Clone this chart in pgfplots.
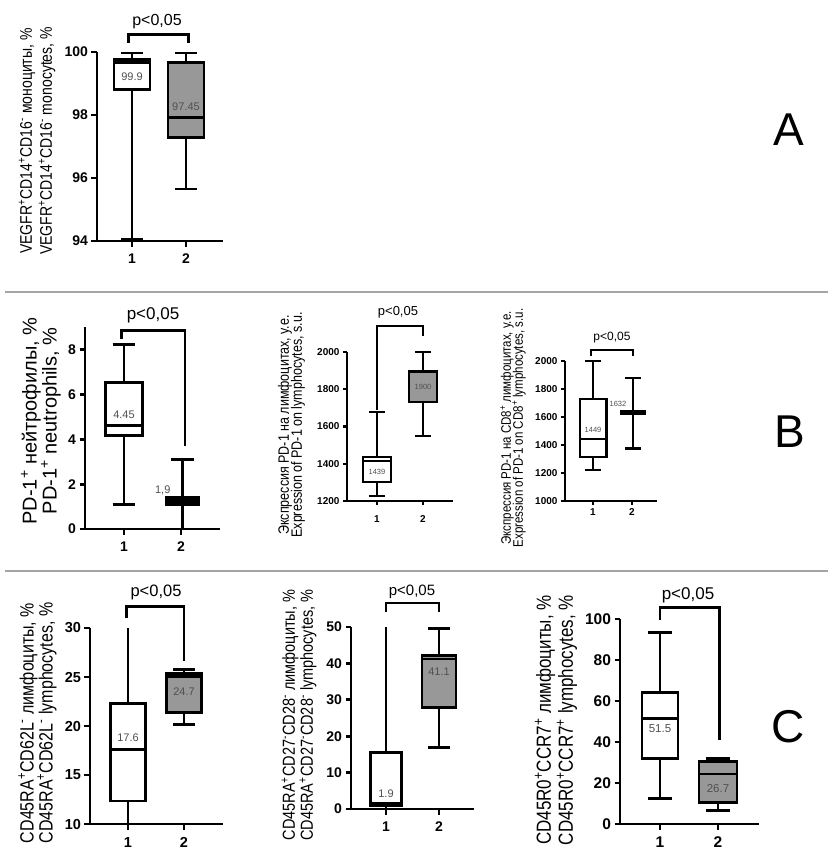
\documentclass[border=0pt]{standalone}
\usepackage{fontspec}
\setmainfont{Liberation Sans}
\usepackage{graphicx}
\usepackage{pgfplots}
\pgfplotsset{compat=1.18}
\usepgfplotslibrary{statistics}
\definecolor{boxgray}{RGB}{152,152,152}
\definecolor{lblgray}{RGB}{80,80,80}
\definecolor{sepgray}{RGB}{165,165,165}
\newcommand{\fs}[1]{\fontsize{#1}{#1}\selectfont}
\newcommand{\sps}{\textsuperscript{+}}
\newcommand{\smn}{\textsuperscript{-}}
\newcommand{\vs}[1]{\scalebox{1}[1.2]{#1}}
\newcommand{\LW}{2.9pt}
\newcommand{\SW}{2.1pt}
\pgfplotsset{
  gp/.style={
    scale only axis, clip=false,
    axis x line=bottom, axis y line=left,
    axis line style={-, line width=#1},
    tick style={black, line width=#1},
    tick align=outside, major tick length=5.5pt,
    xtick={1,2}, minor tick num=0,
    /pgf/number format/assume math mode=true,
    /pgf/number format/1000 sep={},
    boxplot/draw direction=y,
    boxplot/every box/.append style={line width=#1},
    boxplot/every whisker/.append style={line width=#1},
    boxplot/every median/.append style={line width=#1},
    every axis plot/.append style={line width=#1},
  },
}
\begin{document}
\begin{tikzpicture}
\path[use as bounding box] (0pt,0pt) rectangle (833pt,-867pt);
\fill[white] (0pt,0pt) rectangle (833pt,-867pt);
\draw[sepgray, line width=1.3pt] (5pt,-292pt) -- (828pt,-292pt);
\draw[sepgray, line width=2pt] (5pt,-571pt) -- (828pt,-571pt);

% ---------------- Panel A
\begin{axis}[gp=\LW, at={(97pt,-241pt)}, anchor=south west, width=126pt, height=189pt,
 xmin=0.352, xmax=2.685, ymin=94, ymax=100, ytick={94,96,98,100},
 xticklabel style={yshift=-4pt},
 ticklabel style={font=\bfseries\fs{14}}]
\addplot[draw=black, line width=\LW, mark=none, fill=white, boxplot prepared={lower whisker=94.04, lower quartile=98.80, median=99.68, upper quartile=99.76, upper whisker=99.97, draw position=1, box extend=0.667, whisker extend=0.4}] coordinates {};
\addplot[draw=black, line width=\LW, mark=none, fill=boxgray, boxplot prepared={lower whisker=95.65, lower quartile=97.29, median=97.93, upper quartile=99.68, upper whisker=99.97, draw position=2, box extend=0.667, whisker extend=0.4}] coordinates {};
\addplot[black, line width=\LW, no marks] coordinates {(0.93,100.29) (0.93,100.57) (2.05,100.57) (2.05,100.29)};
\node[font=\fs{11}, text=lblgray] at (axis cs:1,99.22) {99.9};
\node[font=\fs{11}, text=lblgray] at (axis cs:2,98.25) {97.45};
\end{axis}
\node[font=\fs{16}] at (157pt,-22pt) {p<0,05};
\node[rotate=90, font=\fs{14}] at (27pt,-141pt) {\vs{VEGFR\sps CD14\sps CD16\smn{} моноциты, \%}};
\node[rotate=90, font=\fs{14}] at (47pt,-141pt) {\vs{VEGFR\sps CD14\sps CD16\smn{} monocytes, \%}};
\node[font=\fs{46}] at (789pt,-130pt) {A};

% ---------------- Panel B1
\begin{axis}[gp=\LW, at={(85pt,-529pt)}, anchor=south west, width=135pt, height=202pt,
 xmin=0.316, xmax=2.684, ymin=0, ymax=9, ytick={0,2,4,6,8},
 xticklabel style={yshift=-4pt},
 ticklabel style={font=\bfseries\fs{14}}]
\addplot[draw=black, line width=\LW, mark=none, fill=white, boxplot prepared={lower whisker=1.10, lower quartile=4.16, median=4.60, upper quartile=6.51, upper whisker=8.22, draw position=1, box extend=0.65, whisker extend=0.4}] coordinates {};
\addplot[draw=black, line width=\LW, mark=none, fill=black, boxplot prepared={lower whisker=0, lower quartile=1.07, median=1.25, upper quartile=1.42, upper whisker=3.11, draw position=2.03, box extend=0.56, whisker extend=0.4}] coordinates {};
\addplot[black, line width=\LW, no marks] coordinates {(0.95,8.45) (0.95,8.85) (2.07,8.85) (2.07,3.68)};
\node[font=\fs{11}, text=lblgray] at (axis cs:1,5.09) {4.45};
\node[font=\fs{11}, text=lblgray] at (axis cs:1.68,1.74) {1,9};
\end{axis}
\node[font=\fs{17}] at (153pt,-315pt) {p<0,05};
\node[rotate=90, font=\fs{20}] at (31pt,-421pt) {PD-1\sps{} нейтрофилы, \%};
\node[rotate=90, font=\fs{20}] at (51pt,-421pt) {PD-1\sps{} neutrophils, \%};

% ---------------- Panel B2
\begin{axis}[gp=\SW, at={(347pt,-501pt)}, anchor=south west, width=106pt, height=149pt,
 xmin=0.348, xmax=2.652, ymin=1200, ymax=2000, ytick={1200,1400,...,2000},
 major tick length=4pt, xticklabel style={yshift=-7pt},
 ticklabel style={font=\bfseries\fs{10}}]
\addplot[draw=black, line width=\SW, mark=none, fill=white, boxplot prepared={lower whisker=1227, lower quartile=1304, median=1417, upper quartile=1438, upper whisker=1680, draw position=1, box extend=0.61, whisker extend=0.35}] coordinates {};
\addplot[draw=black, line width=\SW, mark=none, fill=boxgray, boxplot prepared={lower whisker=1551, lower quartile=1730, median=1895, upper quartile=1898, upper whisker=2000, draw position=2, box extend=0.61, whisker extend=0.35}] coordinates {};
\addplot[black, line width=\SW, no marks] coordinates {(1,1689) (1,2140) (2,2140) (2,2085)};
\node[font=\fs{7.5}, text=lblgray] at (axis cs:1,1357) {1439};
\node[font=\fs{7.5}, text=lblgray] at (axis cs:2,1814) {1900};
\end{axis}
\node[font=\fs{13}] at (398pt,-312pt) {p<0,05};
\node[rotate=90, font=\fs{12.5}] at (285pt,-425pt) {\vs{Экспрессия PD-1 на лимфоцитах, у.е.}};
\node[rotate=90, font=\fs{12.5}] at (298pt,-425pt) {\vs{Expression of PD-1 on lymphocytes, s.u.}};

% ---------------- Panel B3
\begin{axis}[gp=\SW, at={(565pt,-501pt)}, anchor=south west, width=92pt, height=140pt,
 xmin=0.282, xmax=2.641, ymin=1000, ymax=2000, ytick={1000,1200,...,2000},
 major tick length=4pt,
 ticklabel style={font=\bfseries\fs{10}}]
\addplot[draw=black, line width=\SW, mark=none, fill=white, boxplot prepared={lower whisker=1220, lower quartile=1315, median=1446, upper quartile=1726, upper whisker=2000, draw position=1, box extend=0.69, whisker extend=0.4}] coordinates {};
\addplot[draw=black, line width=\SW, mark=none, fill=black, boxplot prepared={lower whisker=1375, lower quartile=1621, median=1632, upper quartile=1644, upper whisker=1876, draw position=2.03, box extend=0.62, whisker extend=0.4}] coordinates {};
\addplot[black, line width=\SW, no marks] coordinates {(0.95,2036) (0.95,2079) (2.03,2079) (2.03,2036)};
\node[font=\fs{7.5}, text=lblgray] at (axis cs:1,1511) {1449};
\node[font=\fs{7.5}, text=lblgray] at (axis cs:1.64,1690) {1632};
\end{axis}
\node[font=\fs{12}] at (612pt,-338pt) {p<0,05};
\node[rotate=90, font=\fs{11.5}] at (507pt,-428pt) {\vs{Экспрессия PD-1 на CD8\sps{} лимфоцитах, у.е.}};
\node[rotate=90, font=\fs{11.5}] at (519pt,-428pt) {\vs{Expression of PD-1 on CD8\sps{} lymphocytes, s.u.}};
\node[font=\fs{46}] at (790pt,-432pt) {B};

% ---------------- Panel C1
\begin{axis}[gp=\LW, at={(90pt,-824pt)}, anchor=south west, width=133pt, height=196pt,
 xmin=0.321, xmax=2.696, ymin=10, ymax=30, ytick={10,15,...,30},
 xticklabel style={yshift=-4pt},
 ticklabel style={font=\bfseries\fs{14.5}}]
\addplot[draw=black, line width=\LW, mark=none, fill=white, boxplot prepared={lower whisker=9.5, lower quartile=12.35, median=17.56, upper quartile=22.27, upper whisker=30, draw position=1, box extend=0.61, whisker extend=0}] coordinates {};
\addplot[draw=black, line width=\LW, mark=none, fill=boxgray, boxplot prepared={lower whisker=20.19, lower quartile=21.38, median=25.06, upper quartile=25.40, upper whisker=25.81, draw position=2, box extend=0.61, whisker extend=0.4}] coordinates {};
\addplot[black, line width=\LW, no marks] coordinates {(0.98,31.0) (0.98,32.2) (2,32.2) (2,26.6)};
\node[font=\fs{11}, text=lblgray] at (axis cs:1,18.83) {17.6};
\node[font=\fs{11}, text=lblgray] at (axis cs:2,23.53) {24.7};
\end{axis}
\node[font=\fs{16.5}] at (156pt,-592pt) {p<0,05};
\node[rotate=90, font=\fs{16}] at (28pt,-723pt) {\vs{CD45RA\sps CD62L\smn{} лимфоциты, \%}};
\node[rotate=90, font=\fs{16}] at (47pt,-723pt) {\vs{CD45RA\sps CD62L\smn{} lymphocytes, \%}};

% ---------------- Panel C2
\begin{axis}[gp=\LW, at={(351pt,-809pt)}, anchor=south west, width=123pt, height=182pt,
 xmin=0.34, xmax=2.66, ymin=0, ymax=50, ytick={0,10,...,50},
 xticklabel style={yshift=-4pt},
 ticklabel style={font=\bfseries\fs{14}}]
\addplot[draw=black, line width=\LW, mark=none, fill=white, boxplot prepared={lower whisker=-0.6, lower quartile=0.92, median=1.47, upper quartile=15.57, upper whisker=50, draw position=1, box extend=0.585, whisker extend=0}] coordinates {};
\addplot[draw=black, line width=\LW, mark=none, fill=boxgray, boxplot prepared={lower whisker=16.9, lower quartile=27.9, median=41.2, upper quartile=42.1, upper whisker=49.7, draw position=2, box extend=0.64, whisker extend=0.4}] coordinates {};
\addplot[black, line width=\LW, no marks] coordinates {(1,54.0) (1,56.6) (2,56.6) (2,54.0)};
\node[font=\fs{11}, text=lblgray] at (axis cs:1,4.2) {1.9};
\node[font=\fs{11}, text=lblgray] at (axis cs:2,37.8) {41.1};
\end{axis}
\node[font=\fs{15}] at (412pt,-592pt) {p<0,05};
\node[rotate=90, font=\fs{14.5}] at (290pt,-715pt) {\vs{CD45RA\sps CD27\smn CD28\smn{} лимфоциты, \%}};
\node[rotate=90, font=\fs{14.5}] at (308pt,-715pt) {\vs{CD45RA\sps CD27\smn CD28\smn{} lymphocytes, \%}};

% ---------------- Panel C3
\begin{axis}[gp=\LW, at={(620pt,-824pt)}, anchor=south west, width=139pt, height=205pt,
 xmin=0.31, xmax=2.707, ymin=0, ymax=100, ytick={0,20,...,100},
 xticklabel style={yshift=-4pt},
 ticklabel style={font=\bfseries\fs{15.5}}]
\addplot[draw=black, line width=\LW, mark=none, fill=white, boxplot prepared={lower whisker=12.5, lower quartile=31.8, median=51.6, upper quartile=64.3, upper whisker=93.6, draw position=1, box extend=0.62, whisker extend=0.4}] coordinates {};
\addplot[draw=black, line width=\LW, mark=none, fill=boxgray, boxplot prepared={lower whisker=6.5, lower quartile=10.4, median=24.4, upper quartile=30.5, upper whisker=31.8, draw position=2, box extend=0.655, whisker extend=0.4}] coordinates {};
\addplot[black, line width=\LW, no marks] coordinates {(1,99.7) (1,105.4) (2.02,105.4) (2.02,41.0)};
\node[font=\fs{11.5}, text=lblgray] at (axis cs:1,46.3) {51.5};
\node[font=\fs{11.5}, text=lblgray] at (axis cs:2,17.4) {26.7};
\end{axis}
\node[font=\fs{17}] at (688pt,-595pt) {p<0,05};
\node[rotate=90, font=\fs{17}] at (545pt,-720pt) {\vs{CD45R0\sps CCR7\sps{} лимфоциты, \%}};
\node[rotate=90, font=\fs{17}] at (567pt,-720pt) {\vs{CD45R0\sps CCR7\sps{} lymphocytes, \%}};
\node[font=\fs{46}] at (788pt,-727pt) {C};
\end{tikzpicture}
\end{document}
